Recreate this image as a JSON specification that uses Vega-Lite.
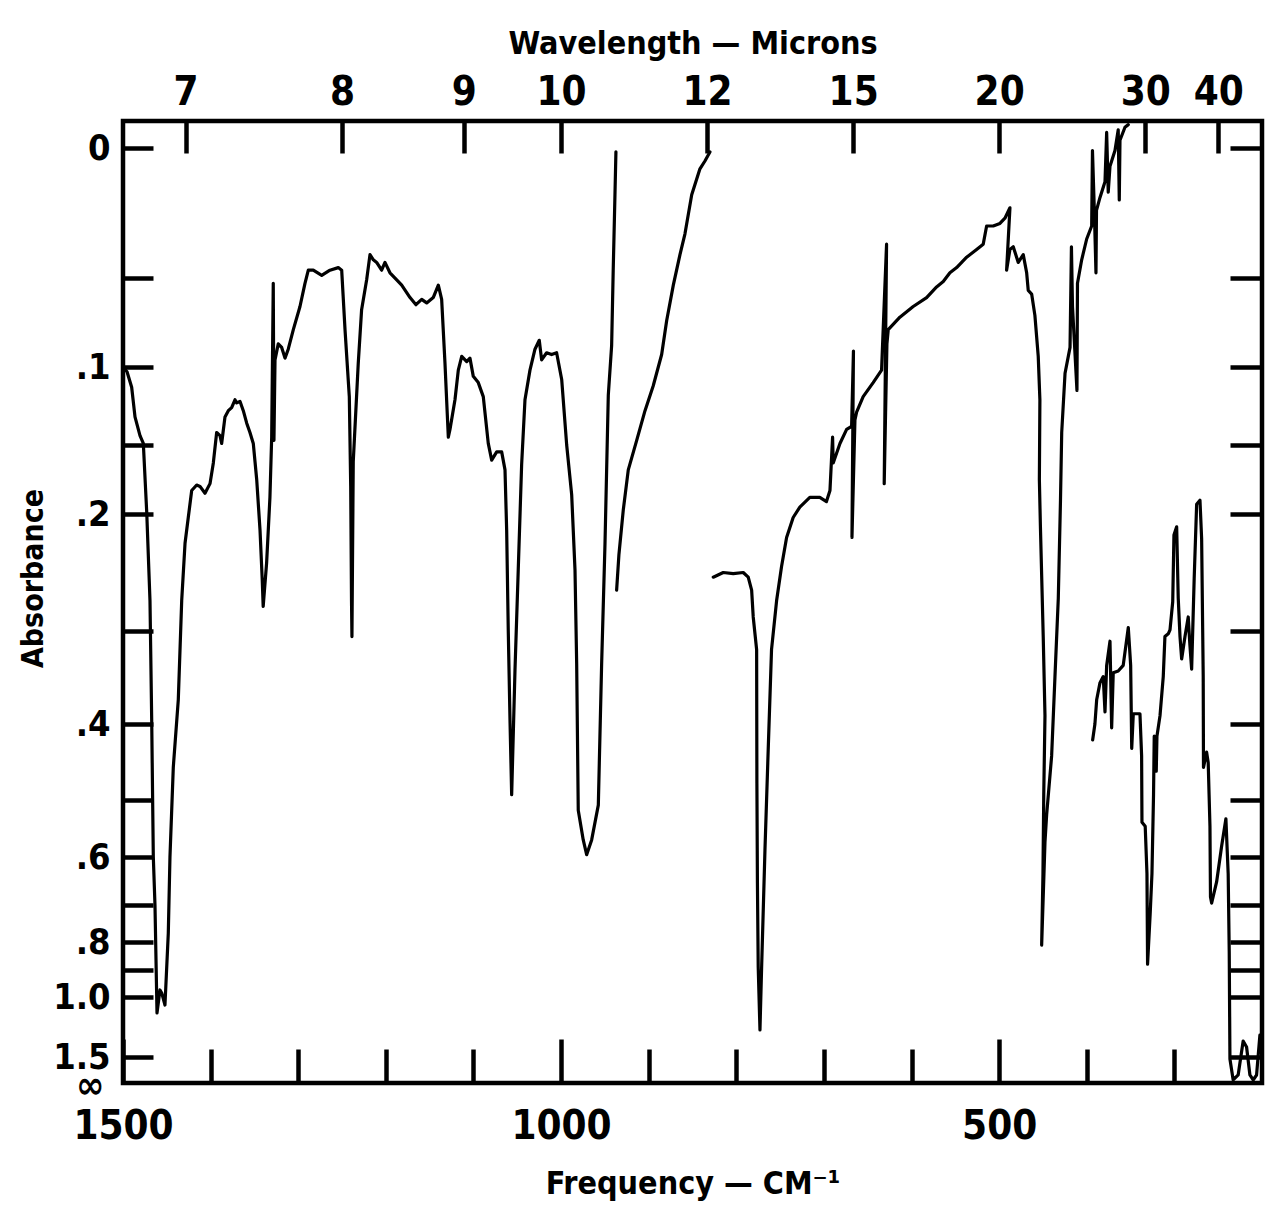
{
  "$schema": "https://vega.github.io/schema/vega-lite/v6.json",
  "width": 1139,
  "height": 962,
  "autosize": {"type": "none"},
  "padding": {"left": 123, "top": 121, "right": 10, "bottom": 128},
  "background": "white",
  "config": {
    "view": {"stroke": "black", "strokeWidth": 4.5},
    "font": "DejaVu Sans Condensed, sans-serif",
    "axis": {
      "domain": false,
      "grid": false,
      "tickColor": "black",
      "tickWidth": 4.5,
      "labelColor": "black",
      "titleColor": "black",
      "labelFont": "DejaVu Sans Condensed, sans-serif",
      "titleFont": "DejaVu Sans Condensed, sans-serif",
      "labelFontWeight": "bold",
      "titleFontWeight": "bold",
      "labelOverlap": false,
      "labelFlush": false,
      "labelBound": false
    }
  },
  "datasets": {
    "trace": [
      {"s": 1, "f": 1500, "a": 0.1},
      {"s": 1, "f": 1495.4, "a": 0.103},
      {"s": 1, "f": 1490.1, "a": 0.113},
      {"s": 1, "f": 1486.3, "a": 0.132},
      {"s": 1, "f": 1480.6, "a": 0.144},
      {"s": 1, "f": 1476.8, "a": 0.149},
      {"s": 1, "f": 1472.9, "a": 0.199},
      {"s": 1, "f": 1469.2, "a": 0.274},
      {"s": 1, "f": 1467.2, "a": 0.399},
      {"s": 1, "f": 1465.4, "a": 0.6},
      {"s": 1, "f": 1463.5, "a": 0.7},
      {"s": 1, "f": 1461.2, "a": 1.133},
      {"s": 1, "f": 1457.8, "a": 0.974},
      {"s": 1, "f": 1455.8, "a": 0.985},
      {"s": 1, "f": 1452.1, "a": 1.067},
      {"s": 1, "f": 1448.3, "a": 0.776},
      {"s": 1, "f": 1446.4, "a": 0.6},
      {"s": 1, "f": 1442.6, "a": 0.457},
      {"s": 1, "f": 1436.9, "a": 0.374},
      {"s": 1, "f": 1433.0, "a": 0.274},
      {"s": 1, "f": 1429.2, "a": 0.225},
      {"s": 1, "f": 1425.5, "a": 0.203},
      {"s": 1, "f": 1421.6, "a": 0.183},
      {"s": 1, "f": 1415.9, "a": 0.179},
      {"s": 1, "f": 1412.1, "a": 0.18},
      {"s": 1, "f": 1406.4, "a": 0.185},
      {"s": 1, "f": 1400.7, "a": 0.178},
      {"s": 1, "f": 1396.9, "a": 0.163},
      {"s": 1, "f": 1393.1, "a": 0.142},
      {"s": 1, "f": 1389.3, "a": 0.144},
      {"s": 1, "f": 1387.4, "a": 0.149},
      {"s": 1, "f": 1383.6, "a": 0.132},
      {"s": 1, "f": 1379.8, "a": 0.128},
      {"s": 1, "f": 1376.0, "a": 0.126},
      {"s": 1, "f": 1372.2, "a": 0.121},
      {"s": 1, "f": 1370.2, "a": 0.123},
      {"s": 1, "f": 1366.5, "a": 0.122},
      {"s": 1, "f": 1362.7, "a": 0.128},
      {"s": 1, "f": 1358.8, "a": 0.136},
      {"s": 1, "f": 1355.1, "a": 0.142},
      {"s": 1, "f": 1351.3, "a": 0.149},
      {"s": 1, "f": 1347.4, "a": 0.175},
      {"s": 1, "f": 1343.6, "a": 0.214},
      {"s": 1, "f": 1341.1, "a": 0.256},
      {"s": 1, "f": 1340.0, "a": 0.279},
      {"s": 1, "f": 1336.1, "a": 0.242},
      {"s": 1, "f": 1332.3, "a": 0.188},
      {"s": 1, "f": 1330.3, "a": 0.145},
      {"s": 1, "f": 1328.5, "a": 0.053},
      {"s": 1, "f": 1327.7, "a": 0.147},
      {"s": 1, "f": 1326.5, "a": 0.096},
      {"s": 1, "f": 1322.8, "a": 0.087},
      {"s": 1, "f": 1318.9, "a": 0.089},
      {"s": 1, "f": 1315.1, "a": 0.095},
      {"s": 1, "f": 1311.4, "a": 0.09},
      {"s": 1, "f": 1305.6, "a": 0.079},
      {"s": 1, "f": 1298.0, "a": 0.066},
      {"s": 1, "f": 1292.3, "a": 0.053},
      {"s": 1, "f": 1288.5, "a": 0.047},
      {"s": 1, "f": 1282.8, "a": 0.047},
      {"s": 1, "f": 1273.2, "a": 0.049},
      {"s": 1, "f": 1263.8, "a": 0.047},
      {"s": 1, "f": 1254.3, "a": 0.046},
      {"s": 1, "f": 1250.4, "a": 0.047},
      {"s": 1, "f": 1246.6, "a": 0.079},
      {"s": 1, "f": 1241.7, "a": 0.119},
      {"s": 1, "f": 1240.1, "a": 0.18},
      {"s": 1, "f": 1239.2, "a": 0.274},
      {"s": 1, "f": 1238.7, "a": 0.306},
      {"s": 1, "f": 1237.2, "a": 0.162},
      {"s": 1, "f": 1231.5, "a": 0.098},
      {"s": 1, "f": 1227.7, "a": 0.068},
      {"s": 1, "f": 1221.9, "a": 0.051},
      {"s": 1, "f": 1218.1, "a": 0.041},
      {"s": 1, "f": 1214.3, "a": 0.043},
      {"s": 1, "f": 1210.5, "a": 0.044},
      {"s": 1, "f": 1204.8, "a": 0.047},
      {"s": 1, "f": 1201.0, "a": 0.044},
      {"s": 1, "f": 1195.3, "a": 0.048},
      {"s": 1, "f": 1187.6, "a": 0.051},
      {"s": 1, "f": 1181.9, "a": 0.054},
      {"s": 1, "f": 1172.4, "a": 0.061},
      {"s": 1, "f": 1165.6, "a": 0.065},
      {"s": 1, "f": 1159.1, "a": 0.062},
      {"s": 1, "f": 1153.4, "a": 0.064},
      {"s": 1, "f": 1145.9, "a": 0.061},
      {"s": 1, "f": 1140.1, "a": 0.054},
      {"s": 1, "f": 1136.3, "a": 0.062},
      {"s": 1, "f": 1132.5, "a": 0.098},
      {"s": 1, "f": 1128.7, "a": 0.145},
      {"s": 1, "f": 1126.8, "a": 0.14},
      {"s": 1, "f": 1121.1, "a": 0.121},
      {"s": 1, "f": 1117.3, "a": 0.102},
      {"s": 1, "f": 1113.4, "a": 0.094},
      {"s": 1, "f": 1107.7, "a": 0.097},
      {"s": 1, "f": 1104.0, "a": 0.095},
      {"s": 1, "f": 1100.2, "a": 0.106},
      {"s": 1, "f": 1094.5, "a": 0.11},
      {"s": 1, "f": 1088.8, "a": 0.119},
      {"s": 1, "f": 1083.1, "a": 0.149},
      {"s": 1, "f": 1079.2, "a": 0.161},
      {"s": 1, "f": 1073.5, "a": 0.155},
      {"s": 1, "f": 1067.8, "a": 0.155},
      {"s": 1, "f": 1064.0, "a": 0.168},
      {"s": 1, "f": 1062.1, "a": 0.214},
      {"s": 1, "f": 1060.3, "a": 0.299},
      {"s": 1, "f": 1058.3, "a": 0.396},
      {"s": 1, "f": 1056.4, "a": 0.493},
      {"s": 1, "f": 1052.6, "a": 0.342},
      {"s": 1, "f": 1048.9, "a": 0.248},
      {"s": 1, "f": 1045.0, "a": 0.164},
      {"s": 1, "f": 1041.2, "a": 0.121},
      {"s": 1, "f": 1035.5, "a": 0.102},
      {"s": 1, "f": 1029.8, "a": 0.09},
      {"s": 1, "f": 1024.9, "a": 0.085},
      {"s": 1, "f": 1022.2, "a": 0.096},
      {"s": 1, "f": 1016.5, "a": 0.092},
      {"s": 1, "f": 1010.8, "a": 0.093},
      {"s": 1, "f": 1005.1, "a": 0.092},
      {"s": 1, "f": 999.3, "a": 0.108},
      {"s": 1, "f": 993.6, "a": 0.15},
      {"s": 1, "f": 987.9, "a": 0.186},
      {"s": 1, "f": 984.1, "a": 0.248},
      {"s": 1, "f": 982.2, "a": 0.335},
      {"s": 1, "f": 980.4, "a": 0.518},
      {"s": 1, "f": 974.7, "a": 0.57},
      {"s": 1, "f": 970.8, "a": 0.596},
      {"s": 1, "f": 965.1, "a": 0.57},
      {"s": 1, "f": 957.5, "a": 0.509},
      {"s": 1, "f": 953.7, "a": 0.335},
      {"s": 1, "f": 949.9, "a": 0.226},
      {"s": 1, "f": 946.1, "a": 0.118},
      {"s": 1, "f": 942.3, "a": 0.088},
      {"s": 1, "f": 940.5, "a": 0.047},
      {"s": 1, "f": 938.5, "a": 0.018},
      {"s": 1, "f": 937.4, "a": 0.0015},

      {"s": 2, "f": 936.6, "a": 0.265},
      {"s": 2, "f": 934.0, "a": 0.235},
      {"s": 2, "f": 929.0, "a": 0.197},
      {"s": 2, "f": 923.3, "a": 0.168},
      {"s": 2, "f": 913.7, "a": 0.147},
      {"s": 2, "f": 904.2, "a": 0.128},
      {"s": 2, "f": 894.8, "a": 0.112},
      {"s": 2, "f": 885.2, "a": 0.093},
      {"s": 2, "f": 879.5, "a": 0.074},
      {"s": 2, "f": 871.9, "a": 0.054},
      {"s": 2, "f": 864.3, "a": 0.041},
      {"s": 2, "f": 858.6, "a": 0.033},
      {"s": 2, "f": 850.9, "a": 0.018},
      {"s": 2, "f": 841.5, "a": 0.008},
      {"s": 2, "f": 835.8, "a": 0.005},
      {"s": 2, "f": 830.1, "a": 0.0015},

      {"s": 3, "f": 826.3, "a": 0.254},
      {"s": 3, "f": 814.9, "a": 0.25},
      {"s": 3, "f": 803.5, "a": 0.251},
      {"s": 3, "f": 792.1, "a": 0.25},
      {"s": 3, "f": 786.4, "a": 0.254},
      {"s": 3, "f": 782.5, "a": 0.265},
      {"s": 3, "f": 780.7, "a": 0.288},
      {"s": 3, "f": 776.8, "a": 0.32},
      {"s": 3, "f": 776.5, "a": 0.478},
      {"s": 3, "f": 775.9, "a": 0.654},
      {"s": 3, "f": 775.0, "a": 0.889},
      {"s": 3, "f": 773.0, "a": 1.275},
      {"s": 3, "f": 771.1, "a": 0.889},
      {"s": 3, "f": 767.3, "a": 0.588},
      {"s": 3, "f": 763.6, "a": 0.434},
      {"s": 3, "f": 759.8, "a": 0.32},
      {"s": 3, "f": 754.0, "a": 0.274},
      {"s": 3, "f": 748.4, "a": 0.245},
      {"s": 3, "f": 742.6, "a": 0.22},
      {"s": 3, "f": 735.1, "a": 0.203},
      {"s": 3, "f": 727.5, "a": 0.195},
      {"s": 3, "f": 716.1, "a": 0.188},
      {"s": 3, "f": 704.7, "a": 0.188},
      {"s": 3, "f": 697.1, "a": 0.191},
      {"s": 3, "f": 693.1, "a": 0.183},
      {"s": 3, "f": 690.1, "a": 0.145},
      {"s": 3, "f": 689.4, "a": 0.163},
      {"s": 3, "f": 681.7, "a": 0.149},
      {"s": 3, "f": 674.1, "a": 0.14},
      {"s": 3, "f": 668.4, "a": 0.138},
      {"s": 3, "f": 666.3, "a": 0.091},
      {"s": 3, "f": 668.0, "a": 0.22},
      {"s": 3, "f": 664.6, "a": 0.134},
      {"s": 3, "f": 662.7, "a": 0.129},
      {"s": 3, "f": 655.2, "a": 0.119},
      {"s": 3, "f": 643.8, "a": 0.11},
      {"s": 3, "f": 634.2, "a": 0.102},
      {"s": 3, "f": 628.5, "a": 0.037},
      {"s": 3, "f": 631.2, "a": 0.178},
      {"s": 3, "f": 628.1, "a": 0.087},
      {"s": 3, "f": 626.6, "a": 0.079},
      {"s": 3, "f": 613.3, "a": 0.072},
      {"s": 3, "f": 598.1, "a": 0.066},
      {"s": 3, "f": 582.8, "a": 0.061},
      {"s": 3, "f": 571.4, "a": 0.055},
      {"s": 3, "f": 563.8, "a": 0.052},
      {"s": 3, "f": 556.2, "a": 0.048},
      {"s": 3, "f": 548.5, "a": 0.046},
      {"s": 3, "f": 537.1, "a": 0.042},
      {"s": 3, "f": 525.7, "a": 0.039},
      {"s": 3, "f": 518.2, "a": 0.037},
      {"s": 3, "f": 514.3, "a": 0.03},
      {"s": 3, "f": 506.8, "a": 0.03},
      {"s": 3, "f": 499.1, "a": 0.029},
      {"s": 3, "f": 493.4, "a": 0.027},
      {"s": 3, "f": 487.7, "a": 0.023},
      {"s": 3, "f": 491.5, "a": 0.047},
      {"s": 3, "f": 487.7, "a": 0.039},
      {"s": 3, "f": 483.9, "a": 0.038},
      {"s": 3, "f": 478.2, "a": 0.044},
      {"s": 3, "f": 472.5, "a": 0.041},
      {"s": 3, "f": 468.6, "a": 0.048},
      {"s": 3, "f": 466.8, "a": 0.057},
      {"s": 3, "f": 462.9, "a": 0.059},
      {"s": 3, "f": 459.2, "a": 0.071},
      {"s": 3, "f": 455.4, "a": 0.094},
      {"s": 3, "f": 453.5, "a": 0.121},
      {"s": 3, "f": 454.1, "a": 0.175},
      {"s": 3, "f": 452.9, "a": 0.211},
      {"s": 3, "f": 449.7, "a": 0.306},
      {"s": 3, "f": 447.7, "a": 0.391},
      {"s": 3, "f": 449.1, "a": 0.493},
      {"s": 3, "f": 450.0, "a": 0.635},
      {"s": 3, "f": 451.5, "a": 0.811},
      {"s": 3, "f": 447.7, "a": 0.574},
      {"s": 3, "f": 445.8, "a": 0.526},
      {"s": 3, "f": 440.1, "a": 0.442},
      {"s": 3, "f": 436.3, "a": 0.349},
      {"s": 3, "f": 432.5, "a": 0.272},
      {"s": 3, "f": 430.0, "a": 0.19},
      {"s": 3, "f": 428.6, "a": 0.142},
      {"s": 3, "f": 424.8, "a": 0.104},
      {"s": 3, "f": 419.1, "a": 0.089},
      {"s": 3, "f": 417.5, "a": 0.038},
      {"s": 3, "f": 416.3, "a": 0.066},
      {"s": 3, "f": 411.2, "a": 0.115},
      {"s": 3, "f": 410.6, "a": 0.053},
      {"s": 3, "f": 405.8, "a": 0.043},
      {"s": 3, "f": 400.1, "a": 0.035},
      {"s": 3, "f": 394.4, "a": 0.03},
      {"s": 3, "f": 393.5, "a": 0.001},
      {"s": 3, "f": 391.2, "a": 0.026},
      {"s": 3, "f": 389.5, "a": 0.048},
      {"s": 3, "f": 388.9, "a": 0.024},
      {"s": 3, "f": 384.9, "a": 0.019},
      {"s": 3, "f": 379.2, "a": 0.013},
      {"s": 3, "f": 377.3, "a": -0.006},
      {"s": 3, "f": 375.5, "a": 0.017},
      {"s": 3, "f": 373.5, "a": 0.007},
      {"s": 3, "f": 367.8, "a": 0.001},
      {"s": 3, "f": 364.1, "a": -0.007},
      {"s": 3, "f": 362.9, "a": 0.02},
      {"s": 3, "f": 362.1, "a": -0.003},
      {"s": 3, "f": 356.4, "a": -0.008},
      {"s": 3, "f": 352.6, "a": -0.009},

      {"s": 4, "f": 393.3, "a": 0.421},
      {"s": 4, "f": 390.7, "a": 0.4},
      {"s": 4, "f": 388.7, "a": 0.374},
      {"s": 4, "f": 385.0, "a": 0.356},
      {"s": 4, "f": 381.2, "a": 0.349},
      {"s": 4, "f": 379.2, "a": 0.387},
      {"s": 4, "f": 377.3, "a": 0.337},
      {"s": 4, "f": 373.5, "a": 0.311},
      {"s": 4, "f": 371.6, "a": 0.405},
      {"s": 4, "f": 369.8, "a": 0.345},
      {"s": 4, "f": 364.1, "a": 0.343},
      {"s": 4, "f": 358.4, "a": 0.337},
      {"s": 4, "f": 352.6, "a": 0.297},
      {"s": 4, "f": 349.9, "a": 0.337},
      {"s": 4, "f": 348.7, "a": 0.432},
      {"s": 4, "f": 346.9, "a": 0.389},
      {"s": 4, "f": 339.3, "a": 0.389},
      {"s": 4, "f": 337.4, "a": 0.442},
      {"s": 4, "f": 337.0, "a": 0.539},
      {"s": 4, "f": 333.3, "a": 0.546},
      {"s": 4, "f": 331.3, "a": 0.635},
      {"s": 4, "f": 330.6, "a": 0.879},
      {"s": 4, "f": 327.6, "a": 0.722},
      {"s": 4, "f": 325.6, "a": 0.635},
      {"s": 4, "f": 323.8, "a": 0.493},
      {"s": 4, "f": 323.0, "a": 0.416},
      {"s": 4, "f": 320.7, "a": 0.462},
      {"s": 4, "f": 319.9, "a": 0.416},
      {"s": 4, "f": 316.4, "a": 0.391},
      {"s": 4, "f": 312.7, "a": 0.349},
      {"s": 4, "f": 310.8, "a": 0.306},
      {"s": 4, "f": 307.0, "a": 0.303},
      {"s": 4, "f": 305.0, "a": 0.299},
      {"s": 4, "f": 301.9, "a": 0.275},
      {"s": 4, "f": 300.5, "a": 0.218},
      {"s": 4, "f": 297.4, "a": 0.211},
      {"s": 4, "f": 295.6, "a": 0.272},
      {"s": 4, "f": 293.6, "a": 0.306},
      {"s": 4, "f": 291.7, "a": 0.33},
      {"s": 4, "f": 287.9, "a": 0.306},
      {"s": 4, "f": 284.2, "a": 0.288},
      {"s": 4, "f": 282.3, "a": 0.315},
      {"s": 4, "f": 280.3, "a": 0.341},
      {"s": 4, "f": 277.4, "a": 0.255},
      {"s": 4, "f": 274.6, "a": 0.193},
      {"s": 4, "f": 270.8, "a": 0.19},
      {"s": 4, "f": 268.9, "a": 0.221},
      {"s": 4, "f": 267.1, "a": 0.349},
      {"s": 4, "f": 266.8, "a": 0.457},
      {"s": 4, "f": 263.2, "a": 0.437},
      {"s": 4, "f": 261.4, "a": 0.451},
      {"s": 4, "f": 259.4, "a": 0.546},
      {"s": 4, "f": 258.8, "a": 0.683},
      {"s": 4, "f": 257.5, "a": 0.696},
      {"s": 4, "f": 251.8, "a": 0.652},
      {"s": 4, "f": 246.1, "a": 0.581},
      {"s": 4, "f": 241.2, "a": 0.533},
      {"s": 4, "f": 238.6, "a": 0.635},
      {"s": 4, "f": 237.4, "a": 0.836},
      {"s": 4, "f": 236.6, "a": 1.538},
      {"s": 4, "f": 232.9, "a": 1.942},
      {"s": 4, "f": 227.2, "a": 1.846},
      {"s": 4, "f": 221.5, "a": 1.367},
      {"s": 4, "f": 217.6, "a": 1.417},
      {"s": 4, "f": 213.8, "a": 1.846},
      {"s": 4, "f": 210.1, "a": 1.942},
      {"s": 4, "f": 206.2, "a": 1.846},
      {"s": 4, "f": 202.4, "a": 1.317}
    ]
  },
  "data": {"name": "trace"},
  "resolve": {"axis": {"x": "independent", "y": "independent"}},
  "layer": [
    {
      "transform": [{"filter": "datum.s <= 2"}],
      "mark": {"type": "line", "color": "black", "strokeWidth": 3.2, "strokeJoin": "round", "strokeCap": "round", "clip": true},
      "encoding": {
        "x": {
          "field": "f",
          "type": "quantitative",
          "scale": {"domain": [1500, 200], "nice": false, "zero": false},
          "axis": {
            "orient": "bottom",
            "values": [1500, 1400, 1300, 1200, 1100, 1000, 900, 800, 700, 600, 500, 400, 300],
            "format": "d",
            "labelExpr": "datum.value % 500 === 0 ? datum.label : ''",
            "tickSize": {"condition": {"test": "datum.value % 500 === 0", "value": -44}, "value": -34},
            "labelPadding": 67,
            "labelFontSize": 40,
            "title": "Frequency — CM⁻¹",
            "titleFontSize": 32,
            "titlePadding": 12
          }
        },
        "y": {
          "field": "a",
          "type": "quantitative",
          "scale": {
            "type": "linear",
            "domain": [-0.0104, 0, 0.05, 0.1, 0.15, 0.2, 0.3, 0.4, 0.5, 0.6, 0.7, 0.8, 0.9, 1.0, 1.5, 2.0],
            "range": [0, 27, 157, 246, 324, 393, 510, 603, 679, 736, 784, 821, 849, 876, 936, 962],
            "nice": false,
            "zero": false
          },
          "axis": {
            "orient": "left",
            "values": [0, 0.05, 0.1, 0.15, 0.2, 0.3, 0.4, 0.5, 0.6, 0.7, 0.8, 0.9, 1, 1.5, 2],
            "labelExpr": "datum.value === 0 ? '0' : datum.value === 2 ? '∞' : (datum.value === 1 || datum.value === 1.5) ? format(datum.value, '.1f') : (datum.value === 0.1 || datum.value === 0.2 || datum.value === 0.4 || datum.value === 0.6 || datum.value === 0.8) ? replace(format(datum.value, '.1f'), '0.', '.') : ''",
            "tickSize": -30,
            "tickOpacity": {"condition": {"test": "datum.value === 2", "value": 0}, "value": 1},
            "labelOffset": {"condition": {"test": "datum.value === 2", "value": 3}, "value": 0},
            "labelFontSize": {"condition": {"test": "datum.value === 2", "value": 38}, "value": 36},
            "labelPadding": {"condition": {"test": "datum.value === 2", "value": 49}, "value": 43},
            "title": "Absorbance",
            "titleFontSize": 30,
            "titlePadding": 4,
            "titleY": 457
          }
        },
        "detail": {"field": "s", "type": "nominal"},
        "order": {"value": null}
      }
    },
    {
      "transform": [{"filter": "datum.s >= 3"}],
      "mark": {"type": "line", "color": "black", "strokeWidth": 3.2, "strokeJoin": "round", "strokeCap": "round", "clip": true},
      "encoding": {
        "x": {
          "field": "f",
          "type": "quantitative",
          "scale": {"domain": [1500, 200], "nice": false, "zero": false},
          "axis": {
            "orient": "top",
            "values": [1428.5714, 1250, 1111.1111, 1000, 833.3333, 666.6667, 500, 333.3333, 250],
            "labelExpr": "format(10000 / datum.value, '.0f')",
            "tickSize": -32,
            "labelPadding": 41,
            "labelFontSize": 40,
            "title": "Wavelength — Microns",
            "titleFontSize": 32,
            "titlePadding": 12
          }
        },
        "y": {
          "field": "a",
          "type": "quantitative",
          "scale": {
            "type": "linear",
            "domain": [-0.0104, 0, 0.05, 0.1, 0.15, 0.2, 0.3, 0.4, 0.5, 0.6, 0.7, 0.8, 0.9, 1.0, 1.5, 2.0],
            "range": [0, 27, 157, 246, 324, 393, 510, 603, 679, 736, 784, 821, 849, 876, 936, 962],
            "nice": false,
            "zero": false
          },
          "axis": {
            "orient": "right",
            "values": [0, 0.05, 0.1, 0.15, 0.2, 0.3, 0.4, 0.5, 0.6, 0.7, 0.8, 0.9, 1, 1.5],
            "labels": false,
            "tickSize": -32,
            "title": null
          }
        },
        "detail": {"field": "s", "type": "nominal"},
        "order": {"value": null}
      }
    }
  ]
}
